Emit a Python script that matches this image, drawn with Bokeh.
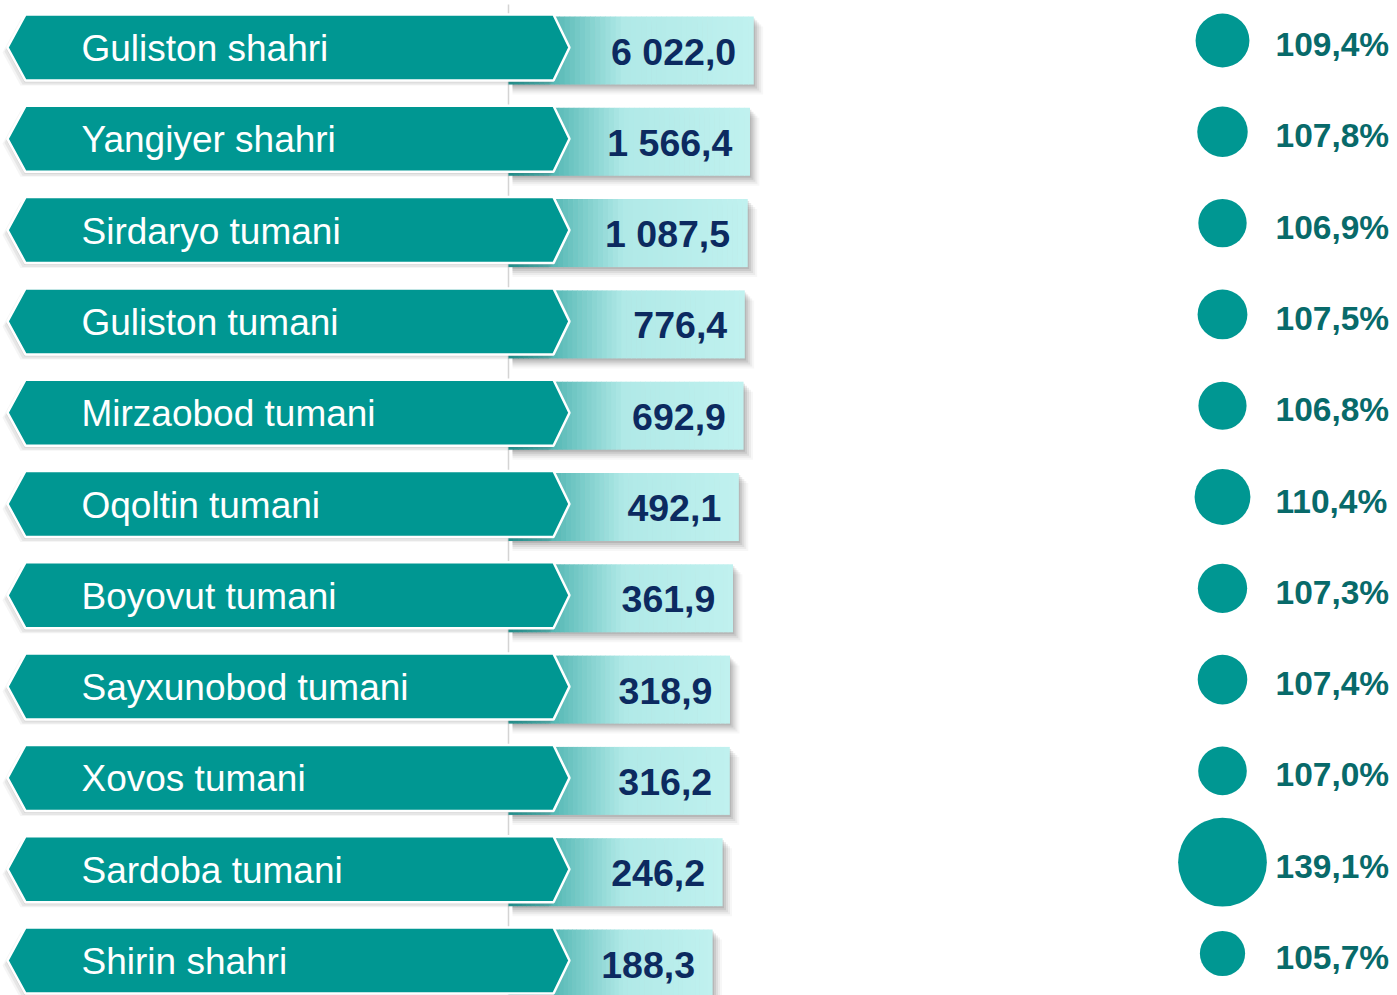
import numpy as np
from bokeh.plotting import figure
from bokeh.models import Range1d
from bokeh.embed import file_html
from bokeh.resources import INLINE
from bokeh.core.properties import value

# ---- data ----
regions = ["Guliston shahri", "Yangiyer shahri", "Sirdaryo tumani", "Guliston tumani",
           "Mirzaobod tumani", "Oqoltin tumani", "Boyovut tumani", "Sayxunobod tumani",
           "Xovos tumani", "Sardoba tumani", "Shirin shahri"]
values = [6022.0, 1566.4, 1087.5, 776.4, 692.9, 492.1, 361.9, 318.9, 316.2, 246.2, 188.3]
growth = [109.4, 107.8, 106.9, 107.5, 106.8, 110.4, 107.3, 107.4, 107.0, 139.1, 105.7]

val_labels = [f"{v:,.1f}".replace(",", " ").replace(".", ",") for v in values]
growth_labels = [f"{g:.1f}%".replace(".", ",") for g in growth]

# ---- figure (1 unit = 1 screen pixel of the page) ----
W, H = 1397, 995
p = figure(width=W, height=H, x_range=Range1d(0, W), y_range=Range1d(H, 0),
           output_backend="svg", toolbar_location=None, min_border=0)
p.axis.visible = False
p.grid.visible = False
p.outline_line_color = None
p.background_fill_color = "white"
p.border_fill_color = "white"

n = len(regions)
yc = np.array([47 + 91.3 * i for i in range(n)])
vals = np.array(values)
bar_end = 754 - 8000.0 / vals
bar_left = 508.0
bar_top = yc - 31
bar_bot = yc + 37

# vertical axis line
p.segment(x0=[bar_left], y0=[4], x1=[bar_left], y1=[995], line_color="#d4d4d4", line_width=1.5)

# bar shadows (soft, right and bottom)
for k, a in [(2, 0.12), (4, 0.10), (6, 0.08), (8, 0.06), (10, 0.04)]:
    p.quad(left=bar_left + 4, right=bar_end + k, top=bar_top + k, bottom=bar_bot + k,
           fill_color="#303030", fill_alpha=a, line_color=None)

# gradient bars
c0 = np.array([0x1c, 0x99, 0x95])
c1 = np.array([0xb0, 0xe9, 0xe7])
c2 = np.array([0xc0, 0xf1, 0xef])
L, R, T, B, C = [], [], [], [], []
nsl = 48
for i in range(n):
    edges = np.linspace(bar_left, bar_end[i], nsl + 1)
    for j in range(nsl):
        xm = 0.5 * (edges[j] + edges[j + 1])
        t = np.clip((xm - bar_left) / 115.0, 0, 1)
        if t < 1:
            c = c0 + (c1 - c0) * t
        else:
            u = (xm - bar_left - 115.0) / max(bar_end[i] - bar_left - 115.0, 1)
            c = c1 + (c2 - c1) * u
        L.append(edges[j]); R.append(edges[j + 1] + 0.6)
        T.append(bar_top[i]); B.append(bar_bot[i])
        C.append("#%02x%02x%02x" % tuple(int(round(v)) for v in c))
p.quad(left=L, right=R, top=T, bottom=B, fill_color=C, line_color=None)

# banners
def banner(y, dx=0, dy=0):
    xs = [25 + dx, 553 + dx, 569 + dx, 553 + dx, 25 + dx, 7 + dx]
    ys = [y - 33 + dy, y - 33 + dy, y + dy, y + 33 + dy, y + 33 + dy, y + dy]
    return xs, ys

for (dx, dy, a) in [(-5, 5, 0.05), (-3, 4, 0.08), (-1, 2, 0.10)]:
    xs, ys = zip(*[banner(y, dx, dy) for y in yc])
    p.patches(xs=list(xs), ys=list(ys), fill_color="#404040", fill_alpha=a, line_color=None)

xs, ys = zip(*[banner(y) for y in yc])
p.patches(xs=list(xs), ys=list(ys), fill_color="#009792", line_color="white", line_width=2.5)

# region names
p.text(x=[81] * n, y=yc + 1, text=regions, text_font=value("Liberation Sans"),
       text_font_size="37px", text_color="white", text_baseline="middle", text_align="left")

# values
p.text(x=bar_end - 17, y=yc + 4, text=val_labels, text_font=value("Liberation Sans"),
       text_font_size="37.5px", text_font_style="bold", text_color="#0c2a60",
       text_baseline="middle", text_align="right")

# growth bubbles
g = np.array(growth)
sizes = 24.6 * (g - 100) ** 0.35
p.scatter(x=[1222] * n, y=yc - 7, size=sizes, fill_color="#009792", line_color=None)
p.text(x=[1275] * n, y=yc - 3, text=growth_labels, text_font=value("Liberation Sans"),
       text_font_size="33.5px", text_font_style="bold", text_color="#086a6a",
       text_baseline="middle", text_align="left")

open("out.html", "w").write(file_html(p, INLINE))
